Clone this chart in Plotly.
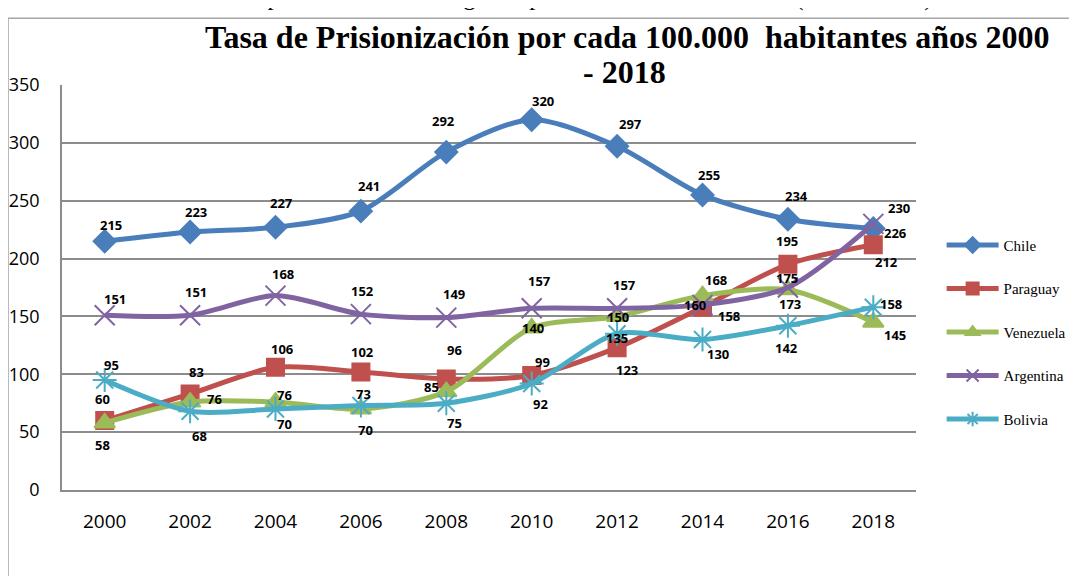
import plotly.graph_objects as go

years = [2000, 2002, 2004, 2006, 2008, 2010, 2012, 2014, 2016, 2018]
chile = [215, 223, 227, 241, 292, 320, 297, 255, 234, 226]
paraguay = [60, 83, 106, 102, 96, 99, 123, 158, 195, 212]
venezuela = [58, 76, 76, 70, 85, 140, 150, 168, 173, 145]
argentina = [151, 151, 168, 152, 149, 157, 157, 160, 175, 230]
bolivia = [95, 68, 70, 73, 75, 92, 135, 130, 142, 158]

# label offsets in pixels (dx, dy; dy positive = down)
off_chile = [(6, -16), (6, -20), (6, -24), (8, -25), (-3, -31), (11, -19), (13, -22), (6, -20), (9, -23), (22, 5)]
off_paraguay = [(-2, -22), (6, -22), (7, -18), (2, -20), (8, -29), (11, -13), (10, 22), (26, 9), (-1, -23), (13, 17)]
off_venezuela = [(-2, 22), (24, -3), (9, -7), (5, 21), (-15, -5), (1, 0), (1, 1), (13, -16), (2, 14), (22, 13)]
off_argentina = [(10, -16), (6, -23), (7, -22), (2, -23), (8, -24), (8, -27), (7, -23), (-8, 0), (-1, -10), (26, -16)]
off_bolivia = [(7, -15), (9, 25), (9, 15), (3, -12), (8, 20), (9, 20), (0, 4), (15, 14), (-1, 22), (18, -3)]

series = [
    ("Chile", chile, "#4A7EBB", "diamond", 17, off_chile),
    ("Paraguay", paraguay, "#C0504D", "square", 17, off_paraguay),
    ("Venezuela", venezuela, "#9BBB59", "triangle-up", 18, off_venezuela),
    ("Argentina", argentina, "#8064A2", "x-thin-open", 20, off_argentina),
    ("Bolivia", bolivia, "#4BACC6", "asterisk-open", 20, off_bolivia),
]

fig = go.Figure()
annotations = []
for name, vals, color, sym, size, offs in series:
    fig.add_trace(go.Scatter(
        x=years, y=vals, name=name, mode="lines+markers",
        legendgroup=name,
        line=dict(color=color, width=5, shape="spline", smoothing=0.8),
        marker=dict(symbol=sym, size=size, color=color,
                    line=dict(color=color, width=2)),
    ))
    for x, v, (dx, dy) in zip(years, vals, offs):
        annotations.append(dict(
            x=x, y=v, xref="x", yref="y", text=str(v), showarrow=False,
            xshift=dx, yshift=-dy,
            font=dict(family="Open Sans", size=13, color="black", weight="bold"),
        ))

title_font = dict(family="Liberation Serif", size=32, color="black")
annotations.append(dict(
    x=0.662, y=1.1185, xref="paper", yref="paper", xanchor="center", yanchor="middle",
    text="<b>Tasa de Prisionización por cada 100.000  habitantes años 2000</b>",
    showarrow=False, font=title_font,
))
annotations.append(dict(
    x=0.659, y=1.032, xref="paper", yref="paper", xanchor="center", yanchor="middle",
    text="<b>- 2018</b>",
    showarrow=False, font=title_font,
))
annotations.append(dict(
    x=0.583, y=1.178, xref="paper", yref="paper", xanchor="center", yanchor="bottom",
    text="Tasa de prisionización de algunos países de América del Sur (2000 - 2018)",
    showarrow=False,
    font=dict(family="Liberation Serif", size=25, color="black"),
))

fig.update_layout(
    width=1061, height=568,
    margin=dict(l=54, r=153, t=77, b=86, autoexpand=False),
    paper_bgcolor="white", plot_bgcolor="white",
    annotations=annotations,
    showlegend=True,
    legend=dict(
        x=1.03, y=0.645, xanchor="left", yanchor="top",
        font=dict(family="Liberation Serif", size=15, color="black"),
        tracegroupgap=21, itemwidth=52, itemsizing="constant",
        bgcolor="rgba(0,0,0,0)",
    ),
    shapes=[
        dict(type="rect", xref="paper", yref="paper",
             x0=-0.0632, x1=1.25, y0=-0.3, y1=1.165,
             line=dict(color="#a6a6a6", width=1.5), fillcolor="rgba(0,0,0,0)",
             layer="below"),
    ],
)
fig.update_xaxes(
    range=[1999, 2019], tickvals=years, showgrid=False, showline=True,
    linecolor="#8c8c8c", linewidth=1.5, zeroline=False, automargin=False,
    ticks="", ticklabelstandoff=13,
    tickfont=dict(family="Liberation Sans Narrow, Open Sans", size=19, color="black"),
)
fig.update_yaxes(
    range=[0, 350], dtick=50, showgrid=True, gridcolor="#8c8c8c", gridwidth=1.5,
    showline=True, linecolor="#8c8c8c", linewidth=1.5, zeroline=False, automargin=False,
    ticks="", ticklabelstandoff=17,
    tickfont=dict(family="Liberation Sans Narrow, Open Sans", size=18, color="black"),
)

fig.write_html("out.html")
